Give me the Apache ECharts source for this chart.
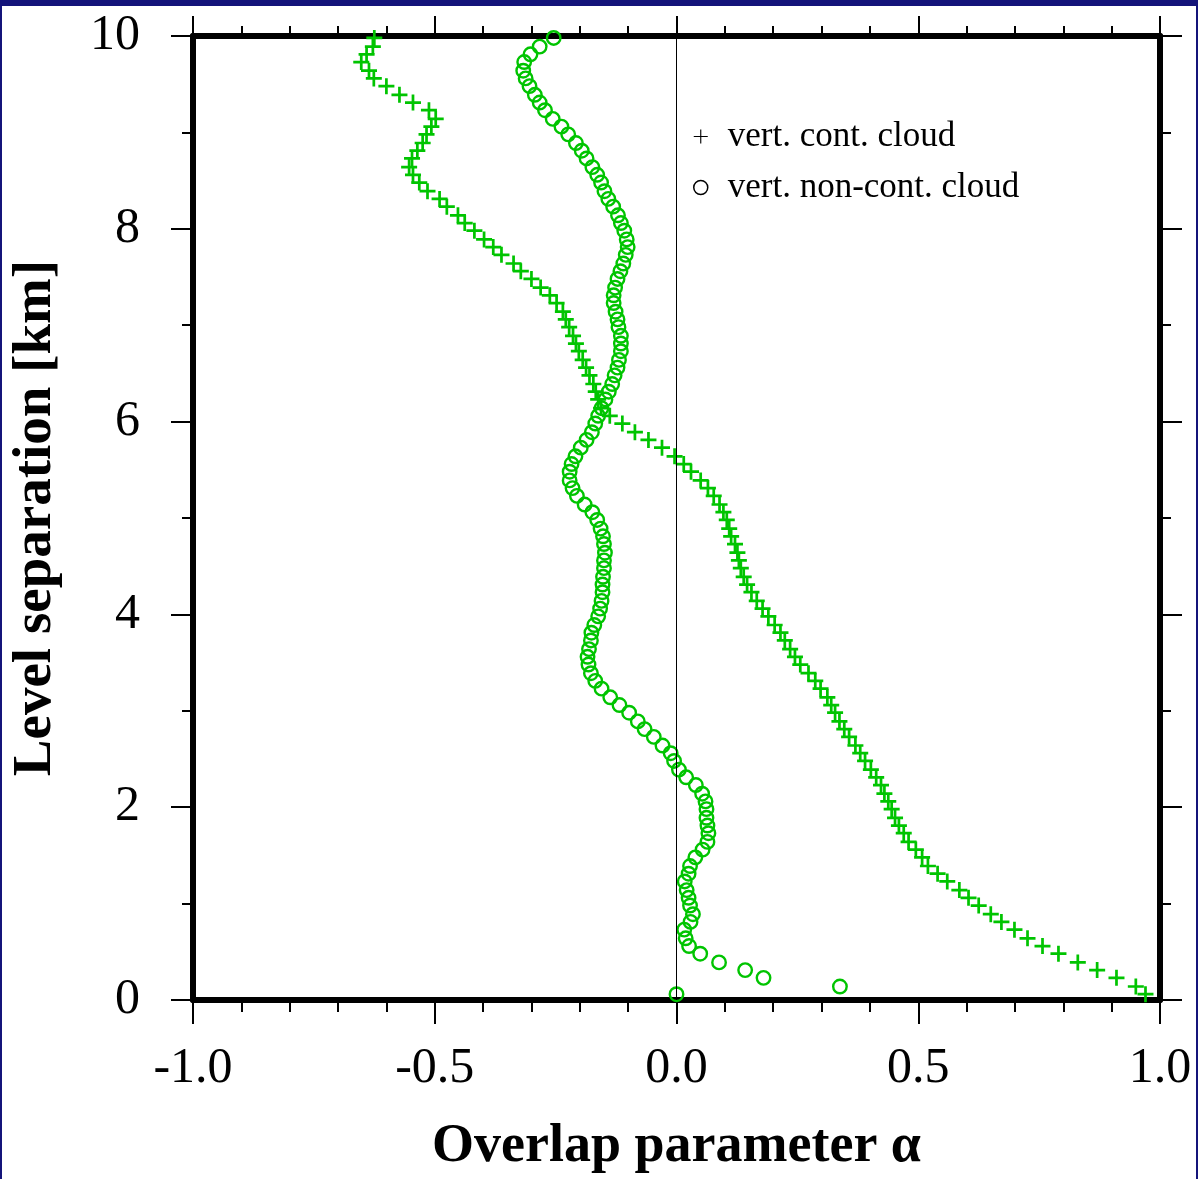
<!DOCTYPE html>
<html>
<head>
<meta charset="utf-8">
<script src="https://cdn.jsdelivr.net/npm/echarts@6/dist/echarts.min.js"></script>
<style>
  html, body { margin: 0; padding: 0; background: #fff; overflow: hidden; }
  #main { width: 1198px; height: 1179px; }
</style>
</head>
<body>
<div id="main"></div>
<script>
// level separation [km]
var levels = [
  0.06, 0.14, 0.23, 0.31, 0.39, 0.48, 0.56, 0.64, 0.73, 0.81,
  0.89, 0.98, 1.06, 1.14, 1.23, 1.31, 1.39, 1.48, 1.56, 1.64,
  1.73, 1.81, 1.89, 1.98, 2.06, 2.14, 2.23, 2.31, 2.39, 2.48,
  2.56, 2.64, 2.73, 2.81, 2.89, 2.98, 3.06, 3.14, 3.23, 3.31,
  3.39, 3.48, 3.56, 3.64, 3.73, 3.81, 3.89, 3.98, 4.06, 4.14,
  4.23, 4.31, 4.39, 4.48, 4.56, 4.64, 4.73, 4.81, 4.89, 4.98,
  5.06, 5.14, 5.23, 5.31, 5.39, 5.48, 5.56, 5.64, 5.73, 5.81,
  5.89, 5.98, 6.06, 6.14, 6.23, 6.31, 6.39, 6.48, 6.56, 6.64,
  6.73, 6.81, 6.89, 6.98, 7.06, 7.14, 7.23, 7.31, 7.39, 7.48,
  7.56, 7.64, 7.73, 7.81, 7.89, 7.98, 8.06, 8.14, 8.23, 8.31,
  8.39, 8.48, 8.56, 8.64, 8.73, 8.81, 8.89, 8.98, 9.06, 9.14,
  9.23, 9.31, 9.39, 9.48, 9.56, 9.64, 9.73, 9.81, 9.89, 9.98
]
// overlap parameter, vertically continuous cloud (+)
var contAlpha = [
  0.97, 0.95, 0.91, 0.87, 0.83, 0.79, 0.757, 0.726, 0.699, 0.672,
  0.65, 0.625, 0.604, 0.585, 0.56, 0.54, 0.52, 0.508, 0.495, 0.48,
  0.47, 0.46, 0.452, 0.445, 0.438, 0.43, 0.423, 0.413, 0.402, 0.39,
  0.38, 0.37, 0.357, 0.347, 0.337, 0.328, 0.32, 0.312, 0.298, 0.287,
  0.273, 0.256, 0.245, 0.235, 0.224, 0.215, 0.203, 0.19, 0.178, 0.166,
  0.155, 0.146, 0.139, 0.133, 0.129, 0.126, 0.121, 0.113, 0.109, 0.104,
  0.097, 0.089, 0.077, 0.065, 0.05, 0.03, 0.015, -0.004, -0.03, -0.058,
  -0.086, -0.112, -0.138, -0.156, -0.162, -0.167, -0.172, -0.18, -0.187, -0.194,
  -0.202, -0.208, -0.214, -0.222, -0.229, -0.235, -0.248, -0.262, -0.281, -0.3,
  -0.322, -0.337, -0.362, -0.379, -0.398, -0.418, -0.438, -0.452, -0.475, -0.49,
  -0.515, -0.532, -0.545, -0.553, -0.547, -0.536, -0.525, -0.517, -0.507, -0.498,
  -0.512, -0.545, -0.573, -0.6, -0.626, -0.636, -0.652, -0.641, -0.628, -0.625
]
// overlap parameter, vertically non-continuous cloud (o)
var nonContAlpha = [
  0.0, 0.338, 0.18, 0.142, 0.088, 0.049, 0.026, 0.019, 0.016, 0.029,
  0.034, 0.028, 0.025, 0.021, 0.017, 0.025, 0.028, 0.039, 0.054, 0.064,
  0.066, 0.064, 0.062, 0.062, 0.06, 0.053, 0.04, 0.02, 0.005, -0.005,
  -0.012, -0.029, -0.047, -0.066, -0.08, -0.098, -0.118, -0.137, -0.155, -0.168,
  -0.177, -0.182, -0.184, -0.181, -0.177, -0.176, -0.17, -0.162, -0.158, -0.155,
  -0.153, -0.153, -0.152, -0.15, -0.15, -0.148, -0.15, -0.152, -0.157, -0.164,
  -0.174, -0.19, -0.206, -0.215, -0.221, -0.221, -0.217, -0.209, -0.198, -0.186,
  -0.175, -0.168, -0.162, -0.155, -0.147, -0.14, -0.133, -0.128, -0.122, -0.119,
  -0.115, -0.115, -0.115, -0.12, -0.122, -0.126, -0.13, -0.13, -0.127, -0.122,
  -0.116, -0.11, -0.105, -0.101, -0.103, -0.108, -0.115, -0.121, -0.131, -0.141,
  -0.149, -0.156, -0.164, -0.174, -0.186, -0.196, -0.208, -0.224, -0.238, -0.256,
  -0.272, -0.283, -0.293, -0.304, -0.312, -0.317, -0.315, -0.302, -0.283, -0.254
]
var seriesNames = ['vert. cont. cloud', 'vert. non-cont. cloud']
var xTicks = ['-1.0', '-0.5', '0.0', '0.5', '1.0']

var green = '#00c400'
var navy = '#14147a'
var font = 'Liberation Serif'
var plusPath = 'path://M-1.7,-10H1.7V-1.7H10V1.7H1.7V10H-1.7V1.7H-10V-1.7H-1.7Z'
var thinPlus = 'path://M-0.8,-10H0.8V-0.8H10V0.8H0.8V10H-0.8V0.8H-10V-0.8H-0.8Z'

function pairs(xs) {
    return xs.map(function (x, i) { return [x, levels[i]] })
}

var chart = echarts.init(document.getElementById('main'))

var xBase = {
    type: 'value', min: -1, max: 1, interval: 0.5,
    splitLine: { show: false },
    axisLine: { onZero: false, lineStyle: { color: '#000', width: 6 } },
    axisTick: { length: 24, lineStyle: { color: '#000', width: 2 } },
    minorTick: { show: true, splitNumber: 5, length: 12, lineStyle: { color: '#000', width: 2 } }
}
var yBase = {
    type: 'value', min: 0, max: 10, interval: 2,
    splitLine: { show: false },
    axisLine: { onZero: false, lineStyle: { color: '#000', width: 6 } },
    axisTick: { length: 22, lineStyle: { color: '#000', width: 2 } },
    minorTick: { show: true, splitNumber: 2, length: 11, lineStyle: { color: '#000', width: 2 } }
}

chart.setOption({
    animation: false,
    backgroundColor: '#fff',
    // page frame
    graphic: [
        { type: 'rect', left: 0, top: 0, shape: { width: 1198, height: 6 }, style: { fill: navy }, silent: true },
        { type: 'rect', left: 0, top: 0, shape: { width: 2, height: 1179 }, style: { fill: navy }, silent: true },
        { type: 'rect', right: 0, top: 0, shape: { width: 2, height: 1179 }, style: { fill: navy }, silent: true }
    ],
    grid: { left: 190, top: 36, right: 38, bottom: 172, containLabel: false },
    legend: {
        orient: 'vertical',
        left: 688, top: 114,
        itemWidth: 14, itemHeight: 14, itemGap: 16,
        textStyle: { fontFamily: font, fontSize: 35, color: '#000', lineHeight: 35, padding: [0, 0, 0, 15] },
        data: [
            { name: seriesNames[0], icon: thinPlus, itemStyle: { color: '#000', borderWidth: 0 } },
            { name: seriesNames[1], icon: 'circle', itemStyle: { color: 'transparent', borderColor: '#000', borderWidth: 1.5 } }
        ]
    },
    xAxis: [
        Object.assign({}, xBase, {
            position: 'bottom',
            name: 'Overlap parameter α', nameLocation: 'middle', nameGap: 120,
            nameTextStyle: { fontFamily: font, fontSize: 54, fontWeight: 'bold', color: '#000' },
            axisLabel: {
                fontFamily: font, fontSize: 50, color: '#000', margin: 44,
                formatter: function (v) { return xTicks[Math.round((v + 1) / 0.5)] }
            }
        }),
        Object.assign({}, xBase, {
            position: 'top',
            axisTick: { length: 20, lineStyle: { color: '#000', width: 2 } },
            minorTick: { show: true, splitNumber: 5, length: 10, lineStyle: { color: '#000', width: 2 } },
            axisLabel: { show: false }
        })
    ],
    yAxis: [
        Object.assign({}, yBase, {
            position: 'left',
            name: 'Level separation [km]', nameLocation: 'middle', nameGap: 130, nameRotate: 90,
            nameTextStyle: { fontFamily: font, fontSize: 55, fontWeight: 'bold', color: '#000' },
            axisLabel: { fontFamily: font, fontSize: 50, color: '#000', margin: 53 }
        }),
        Object.assign({}, yBase, {
            position: 'right',
            axisLabel: { show: false }
        })
    ],
    series: [
        {
            name: seriesNames[0], type: 'scatter',
            symbol: plusPath, symbolSize: 16,
            itemStyle: { color: green, opacity: 1 },
            data: pairs(contAlpha),
            markLine: {
                silent: true, symbol: 'none', label: { show: false },
                lineStyle: { color: '#000', width: 1, type: 'solid' },
                data: [{ xAxis: 0 }]
            },
            z: 3
        },
        {
            name: seriesNames[1], type: 'scatter',
            symbol: 'circle', symbolSize: 13.5,
            itemStyle: { color: 'transparent', borderColor: green, borderWidth: 2.4, opacity: 1 },
            data: pairs(nonContAlpha),
            z: 3
        }
    ]
})
</script>
</body>
</html>
